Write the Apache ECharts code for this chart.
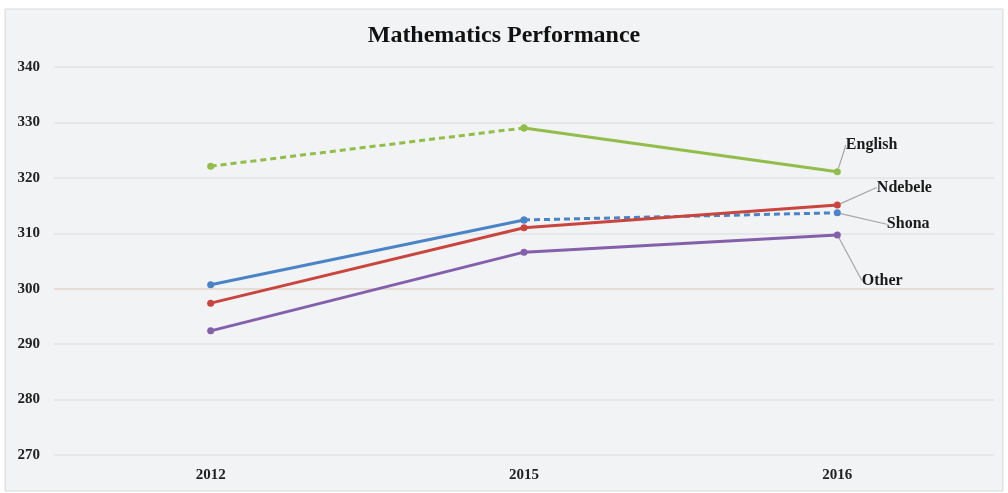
<!DOCTYPE html>
<html>
<head>
<meta charset="utf-8">
<script src="https://cdn.jsdelivr.net/npm/echarts@6/dist/echarts.min.js"></script>
<style>
html,body{margin:0;padding:0;background:#ffffff;}
#chart{width:1008px;height:493px;}
</style>
</head>
<body>
<div id="chart"></div>
<script>
var categories = ['2012', '2015', '2016'];
var english = [322.1, 329.0, 321.1];
var shona = [300.7, 312.4, 313.7];
var ndebele = [297.4, 311.0, 315.1];
var other = [292.4, 306.6, 309.7];
var yTicks = [270, 280, 290, 300, 310, 320, 330, 340];

var serif = '"Liberation Serif", "DejaVu Serif", serif';
var labelFont = {fontFamily: serif, fontWeight: 'bold', fontSize: 16, color: '#1a1a1a'};

function lastLabeled(arr, name, pos) {
  return arr.map(function (v, i) {
    if (i === arr.length - 1) {
      return {value: v, label: Object.assign({show: true, formatter: name}, labelFont, pos)};
    }
    return v;
  });
}
function seg(arr, from, to, labelName, pos) {
  return arr.map(function (v, i) {
    if (i < from || i > to) return null;
    if (labelName && i === arr.length - 1) {
      return {value: v, label: Object.assign({show: true, formatter: labelName}, labelFont, pos)};
    }
    return v;
  });
}

var chart = echarts.init(document.getElementById('chart'), null, {renderer: 'canvas'});

var gridColors = yTicks.map(function (t) { return t === 300 ? '#e3d3cc' : '#e2e3e4'; });

function lineSeries(name, data, color, dashed, layout) {
  return {
    name: name,
    type: 'line',
    data: data,
    symbol: 'circle',
    symbolSize: 7,
    connectNulls: false,
    itemStyle: {color: color},
    lineStyle: {color: color, width: 3, type: dashed ? [6, 4] : 'solid'},
    label: {show: false},
    labelLine: {show: true, lineStyle: {color: '#a6a6a6', width: 1.2}, smooth: false},
    labelLayout: layout,
    emphasis: {disabled: true},
    z: 3
  };
}

var option = {
  backgroundColor: '#ffffff',
  animation: false,
  graphic: [{
    type: 'rect',
    z: -10,
    shape: {x: 5, y: 9, width: 998, height: 482},
    style: {fill: '#f2f3f4', stroke: '#d8d9da', lineWidth: 1}
  }],
  title: {
    text: 'Mathematics Performance',
    left: 'center',
    top: 19,
    textStyle: {fontFamily: serif, fontWeight: 'bold', fontSize: 24, color: '#111111'}
  },
  grid: {left: 54, right: 14, top: 67, bottom: 38, containLabel: false},
  xAxis: {
    type: 'category',
    data: categories,
    boundaryGap: true,
    axisLine: {show: false},
    axisTick: {show: false},
    axisLabel: {fontFamily: serif, fontWeight: 'bold', fontSize: 15, color: '#222222', margin: 13}
  },
  yAxis: {
    type: 'value',
    min: 270,
    max: 340,
    interval: 10,
    axisLine: {show: false},
    axisTick: {show: false},
    axisLabel: {fontFamily: serif, fontWeight: 'bold', fontSize: 15, color: '#222222', margin: 14},
    splitLine: {lineStyle: {color: gridColors, width: 1.5}}
  },
  series: [
    lineSeries('English a', seg(english, 0, 1), '#92bd4a', true),
    lineSeries('English b', seg(english, 1, 2, 'English', {position: 'right'}), '#92bd4a', false,
      function (p) { return {x: p.rect.x + 12, y: p.rect.y - 31}; }),
    lineSeries('Shona a', seg(shona, 0, 1), '#4a84c6', false),
    lineSeries('Shona b', seg(shona, 1, 2, 'Shona', {position: 'right'}), '#4a84c6', true,
      function (p) { return {x: p.rect.x + 53, y: p.rect.y + 7}; }),
    lineSeries('Ndebele', lastLabeled(ndebele, 'Ndebele', {position: 'right'}), '#c9463f', false,
      function (p) { return {x: p.rect.x + 43, y: p.rect.y - 22}; }),
    lineSeries('Other', lastLabeled(other, 'Other', {position: 'right'}), '#8460ac', false,
      function (p) { return {x: p.rect.x + 28, y: p.rect.y + 41}; })
  ]
};
chart.setOption(option);
</script>
</body>
</html>
